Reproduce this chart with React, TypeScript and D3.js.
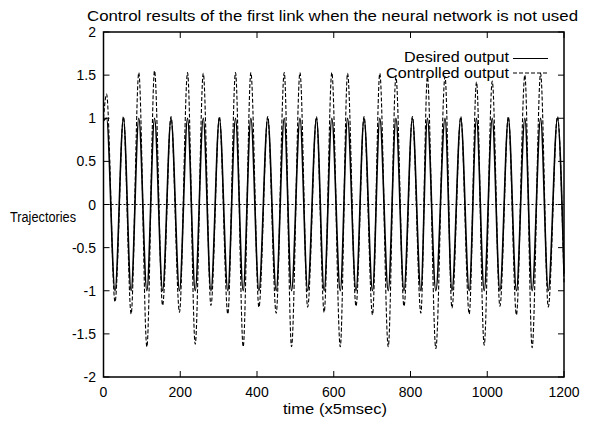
import React from "react";
import * as d3 from "d3";

// time stamps (x5msec) of the turning points
const extremaTimes = [
  0, 8, 30, 52, 72, 92, 113, 133, 154, 176, 198, 219, 239, 260, 280, 302, 324, 344, 364, 384,
  405, 428, 450, 471, 490, 512, 532, 555, 575, 595, 617, 636, 658, 679, 701, 720, 742, 762, 783,
  805, 827, 844, 866, 890, 908, 931, 953, 972, 992, 1013, 1033, 1055, 1076, 1098, 1117, 1139,
  1159, 1183, 1200,
];

const desiredValues = [
  0.97, 1, -1, 1, -1, 1, -1, 1, -1, 1, -1, 1, -1, 1, -1, 1, -1, 1, -1, 1,
  -1, 1, -1, 1, -1, 1, -1, 1, -1, 1, -1, 1, -1, 1, -1, 1, -1, 1, -1,
  1, -1, 1, -1, 1, -1, 1, -1, 1, -1, 1, -1, 1, -1, 1, -1, 1,
  -1, 1, -0.8,
];

const controlledValues = [
  1.0, 1.28, -1.13, 1.02, -1.27, 1.53, -1.65, 1.55, -1.17, 1.02, -1.25, 1.53, -1.62, 1.52, -1.17,
  1.02, -1.27, 1.53, -1.65, 1.53, -1.19, 1.02, -1.26, 1.53, -1.65, 1.53, -1.19, 1.02, -1.25,
  1.53, -1.65, 1.52, -1.18, 1.02, -1.28, 1.52, -1.65, 1.48, -1.18, 1.02, -1.26, 1.48, -1.67,
  1.48, -1.2, 1.02, -1.27, 1.42, -1.63, 1.43, -1.18, 1.02, -1.28, 1.5, -1.66, 1.52, -1.19,
  1.02, -0.9,
];

const xTicks = [0, 200, 400, 600, 800, 1000, 1200];
const yTicks = [-2, -1.5, -1, -0.5, 0, 0.5, 1, 1.5, 2];

const W = 593,
  H = 421;
const left = 103.5,
  right = 564,
  top = 32,
  bottom = 377;
const font = "'Liberation Sans', Arial, Helvetica, sans-serif";
const tickLen = 6;

export default function App() {
  const x = d3.scaleLinear().domain([0, 1200]).range([left, right]);
  const y = d3.scaleLinear().domain([-2, 2]).range([bottom, top]);

  const line = d3
    .line<number>()
    .x((d, i) => x(extremaTimes[i]))
    .y((d) => y(d))
    .curve(d3.curveMonotoneX);

  return (
    <svg
      width={W}
      height={H}
      style={{ position: "absolute", left: 0, top: 0, background: "#fff" }}
    >
      <text x={87} y={21} fontFamily={font} fontSize={15} textLength={491} lengthAdjust="spacingAndGlyphs">
        Control results of the first link when the neural network is not used
      </text>

      {/* zero axis */}
      <line x1={left} x2={right} y1={y(0)} y2={y(0)} stroke="#000" strokeWidth={1} strokeDasharray="2,2" />

      <path d={line(desiredValues) ?? ""} fill="none" stroke="#000" strokeWidth={1.6} />
      <path d={line(controlledValues) ?? ""} fill="none" stroke="#000" strokeWidth={1.1} strokeDasharray="4,2" />

      {/* frame */}
      <rect x={left} y={top} width={right - left} height={bottom - top} fill="none" stroke="#000" strokeWidth={1.5} />

      {yTicks.map((t) => (
        <g key={"y" + t}>
          <line x1={left} x2={left + tickLen} y1={y(t)} y2={y(t)} stroke="#000" />
          <line x1={right} x2={right - tickLen} y1={y(t)} y2={y(t)} stroke="#000" />
          <text x={96} y={y(t) + 5} textAnchor="end" fontFamily={font} fontSize={14}>
            {t}
          </text>
        </g>
      ))}
      {xTicks.map((t) => (
        <g key={"x" + t}>
          <line x1={x(t)} x2={x(t)} y1={bottom} y2={bottom - tickLen} stroke="#000" />
          <line x1={x(t)} x2={x(t)} y1={top} y2={top + tickLen} stroke="#000" />
          <text x={x(t)} y={397} textAnchor="middle" fontFamily={font} fontSize={14}>
            {t}
          </text>
        </g>
      ))}

      <text x={335} y={414} textAnchor="middle" fontFamily={font} fontSize={15} textLength={104} lengthAdjust="spacingAndGlyphs">
        time (x5msec)
      </text>
      <text x={10} y={222} fontFamily={font} fontSize={14} textLength={66} lengthAdjust="spacingAndGlyphs">
        Trajectories
      </text>

      {/* legend */}
      <text x={509} y={62} textAnchor="end" fontFamily={font} fontSize={15.5} textLength={105} lengthAdjust="spacingAndGlyphs">
        Desired output
      </text>
      <line x1={513} x2={548} y1={58.5} y2={58.5} stroke="#000" strokeWidth={1.2} />
      <text x={509} y={78} textAnchor="end" fontFamily={font} fontSize={15.5} textLength={123} lengthAdjust="spacingAndGlyphs">
        Controlled output
      </text>
      <line x1={513} x2={548} y1={73} y2={73} stroke="#000" strokeWidth={1.1} strokeDasharray="4,2" />
    </svg>
  );
}
